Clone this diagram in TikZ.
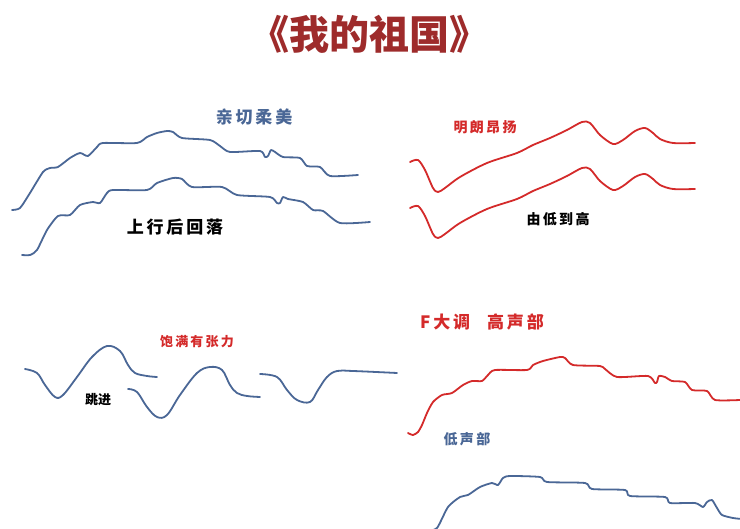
\documentclass[tikz,border=0pt]{standalone}
\usepackage{fontspec}
\newfontfamily\cjk{Noto Sans CJK SC}
\definecolor{titlered}{HTML}{9E2B2B}
\definecolor{inkblue}{HTML}{4A6796}
\definecolor{inkred}{HTML}{D42A2A}

\begin{document}
\begin{tikzpicture}[x=1pt, y=-1pt,
    blueline/.style={draw=inkblue, line width=1.8pt, line cap=round, line join=round},
    redline/.style={draw=inkred, line width=1.8pt, line cap=round, line join=round},
    lab/.style={font=\cjk\bfseries\fontsize{#1}{#1}\selectfont, inner sep=0pt},
    lab/.default=16]
    \useasboundingbox (0,0) rectangle (740,529);
    \fill[white] (0,0) rectangle (740,529);

    \node[lab=40, text=titlered] at (369,34) (title) {《我的祖国》};

    % top left: two blue lines
    \draw[blueline] plot[smooth, tension=0.4] coordinates {(12,210) (20,208) (30,193) (43,172) (50,168) (58,167)
        (70,158) (80,153) (88,156) (97,147) (103,143) (137,143) (147,137) (157,133) (167,131) (173,132)
        (182,138) (210,140) (220,146) (230,152) (260,151) (265,157) (268,156) (271,150) (275,152)
        (283,157) (300,158) (307,166) (320,167) (330,176) (358,175)};
    \draw[blueline] plot[smooth, tension=0.4] coordinates {(22,255) (30,255) (37,250) (47,230) (58,216) (70,215)
        (80,205) (93,202) (100,203) (107,193) (113,190) (147,190) (157,183) (173,178) (182,179)
        (192,187) (222,187) (237,195) (270,197) (277,203) (280,203) (283,197) (288,199) (303,202)
        (313,210) (323,211) (340,223) (370,222)};
    \node[lab=17, text=inkblue] at (254,117) (gentle) {亲\,切\,柔\,美};
    \node[lab=17] at (175,227) (upfall) {上\,行\,后\,回\,落};

    % top right: two red lines
    \foreach \dy in {0,46}
        \draw[redline, yshift=-\dy pt] plot[smooth, tension=0.5] coordinates {(410,162) (418,160) (425,170)
            (433,188) (438,192) (445,188) (460,177) (487,163) (517,153) (533,145) (550,138) (567,130)
            (582,122) (590,123) (600,135) (613,144) (623,140) (635,131) (645,128) (653,133) (660,139)
            (673,143) (695,143)};
    \node[lab=14, text=inkred] at (485,127) (bright) {明\,朗\,昂\,扬};
    \node[lab=14] at (558,219) (lowhigh) {由\,低\,到\,高};

    % bottom left: three leaps
    \draw[blueline] plot[smooth, tension=0.6] coordinates {(25,369) (37,373) (45,385) (55,397) (63,395)
        (77,377) (92,357) (107,346) (120,351) (128,365) (135,373) (147,376) (157,377)};
    \draw[blueline] plot[smooth, tension=0.6] coordinates {(128,389) (137,392) (147,407) (157,417) (167,415)
        (180,395) (197,373) (210,367) (222,370) (230,385) (237,393) (247,396) (260,397)};
    \draw[blueline] plot[smooth, tension=0.6] coordinates {(260,374) (277,377) (287,390) (297,400) (310,402)
        (318,390) (327,377) (337,371) (353,371) (397,373)};
    \node[lab=13, text=inkred] at (197,342) (full) {饱\,满\,有\,张\,力};
    \node[lab=13] at (98,400) (leap) {跳进};

    % bottom right: upper and lower voice
    \draw[redline] plot[smooth, tension=0.4] coordinates {(408,433) (413,435) (418,432) (422,425) (427,413)
        (433,402) (442,395) (452,393) (463,385) (472,381) (482,381) (488,375) (495,370) (527,370)
        (533,365) (543,361) (560,357) (565,358) (573,365) (600,366) (605,369) (617,377) (648,376)
        (655,383) (657,382) (659,376) (665,377) (672,381) (685,382) (692,390) (707,391) (715,400) (740,400)};
    \draw[blueline] plot[smooth, tension=0.4] coordinates {(427,531) (437,528) (448,507) (460,497) (468,495)
        (480,487) (492,483) (498,485) (503,478) (510,476) (540,477) (547,482) (585,483) (592,489)
        (625,490) (630,496) (665,497) (670,503) (695,503) (703,507) (707,502) (712,500) (717,508)
        (722,515) (733,518) (742,519)};
    \node[lab=17, text=inkred, anchor=west] at (420,322) (key) {F\,大\,调\quad 高\,声\,部};
    \node[lab=14, text=inkblue] at (467,439) (lowvoice) {低\,声\,部};
\end{tikzpicture}
\end{document}
